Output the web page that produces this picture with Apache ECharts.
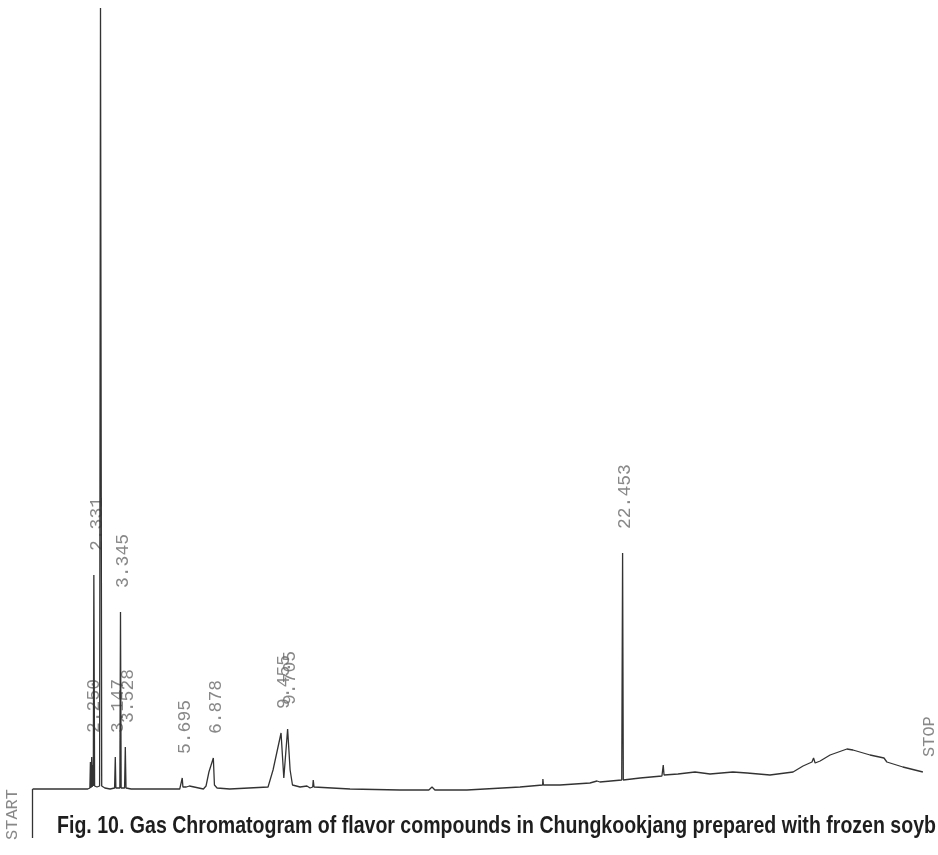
<!DOCTYPE html>
<html>
<head>
<meta charset="utf-8">
<script src="https://cdn.jsdelivr.net/npm/echarts@6/dist/echarts.min.js"></script>
<style>
  html, body { margin: 0; padding: 0; background: #fff; }
  #chart { width: 938px; height: 855px; }
</style>
</head>
<body>
<div id="chart"></div>
<script>
// Retention time (min) and detector response of the recorder trace
const retentionTime = [
  0, 2.10, 2.18, 2.20, 2.22, 2.250, 2.27, 2.29, 2.31, 2.331, 2.36, 2.45, 2.55, 2.584, 2.63, 2.75, 2.95,
  3.12, 3.147, 3.17, 3.32, 3.345, 3.37, 3.50, 3.528, 3.555, 3.75, 5.60, 5.672, 5.695, 5.72, 5.85, 5.97,
  6.01, 6.50, 6.60, 6.71, 6.878, 6.92, 7.02, 7.50, 8.96, 9.15, 9.455, 9.56, 9.705, 9.80, 9.89, 10.18,
  10.44, 10.56, 10.66, 10.68, 10.71, 12.08, 13.98, 15.08, 15.20, 15.31, 16.53, 18.55, 19.41, 19.42,
  19.44, 20.07, 21.21, 21.48, 21.59, 22.42, 22.453, 22.48, 23.12, 23.95, 24.00, 24.03, 24.56, 25.21,
  25.78, 26.65, 27.19, 28.06, 28.94, 29.32, 29.66, 29.72, 29.78, 29.97, 30.35, 30.99, 31.22, 31.87,
  32.40, 32.45, 32.51, 33.12, 33.88
];
const response = [
  11, 11, 12, 38, 12, 43, 13, 35, 14, 225, 14, 13, 14, 792, 14, 12, 11,
  12, 43, 12, 12, 188, 12, 12, 53, 12, 11, 11, 11, 22, 13, 13, 14,
  12, 11, 14, 28, 42, 15, 12, 11, 13, 30, 67, 22, 71, 30, 15, 13,
  14, 12, 13, 20, 13, 11, 10, 10, 13, 10, 10, 13, 15, 21,
  15, 15, 17, 19, 18, 20, 247, 20, 22, 24, 35, 25, 26, 28,
  26, 28, 27, 25, 28, 34, 38, 42, 37, 39, 45, 51, 50, 45,
  42, 44, 38, 33, 28
];

// Retention times printed by the integrator above their peaks
const peakLabels = ['2.250', '2.331', '3.147', '3.345', '3.528', '5.695', '6.878', '9.455', '9.705', '22.453'];

// Run start / stop markers
const startTime = 0;
const stopTime = 33.88;

const captionText = 'Fig. 10. Gas Chromatogram of flavor compounds in Chungkookjang prepared with frozen soyb';

const chart = echarts.init(document.getElementById('chart'), null, { renderer: 'canvas' });

const trace = retentionTime.map((t, i) => [t, response[i]]);
const peakPoints = peakLabels.map(s => {
  const t = parseFloat(s);
  const idx = retentionTime.indexOf(t);
  return [t, response[idx], s];
});
const stopIdx = retentionTime.indexOf(stopTime);

// caption width fitted with a horizontal scale
const captionFont = 'bold 24px "Liberation Sans", Arial, sans-serif';
const ctx = document.createElement('canvas').getContext('2d');
ctx.font = captionFont;
const captionScale = 879 / ctx.measureText(captionText).width;

const printFont = { fontFamily: '"Liberation Mono", "DejaVu Sans Mono", monospace', fontSize: 18, color: '#6a6a6a' };

// label offsets are given in the rotated (reading) frame: [along text, across text]
chart.setOption({
  animation: false,
  backgroundColor: '#ffffff',
  grid: { left: 32.6, right: 0, top: 0, bottom: 0 },
  xAxis: { type: 'value', min: 0, max: 34.456, show: false },
  yAxis: { type: 'value', min: -55, max: 800, show: false },
  series: [
    {
      type: 'line',
      data: trace,
      symbol: 'none',
      lineStyle: { color: '#333333', width: 1.3 },
      markLine: {
        silent: true,
        symbol: 'none',
        label: { show: false },
        lineStyle: { color: '#333333', width: 1.3, type: 'solid' },
        data: [[{ coord: [startTime, response[0]] }, { coord: [startTime, -38] }]]
      }
    },
    {
      type: 'scatter',
      data: peakPoints,
      symbolSize: 0,
      itemStyle: { color: 'rgba(0,0,0,0)' },
      label: Object.assign({
        show: true,
        formatter: p => p.data[2],
        rotate: 90,
        position: 'inside',
        align: 'left',
        verticalAlign: 'middle',
        offset: [24, 3]
      }, printFont)
    },
    {
      type: 'scatter',
      data: [
        { value: [startTime, -40], name: 'START', label: { offset: [0, -20] } },
        { value: [stopTime, response[stopIdx]], name: 'STOP', label: { offset: [15, 7] } }
      ],
      symbolSize: 0,
      itemStyle: { color: 'rgba(0,0,0,0)' },
      label: Object.assign({
        show: true,
        formatter: p => p.name,
        rotate: 90,
        position: 'inside',
        align: 'left',
        verticalAlign: 'middle'
      }, printFont, { fontSize: 17 })
    }
  ],
  graphic: [
    {
      type: 'text',
      x: 57,
      y: 826,
      scaleX: captionScale,
      style: {
        text: captionText,
        font: captionFont,
        fill: '#1e1e1e',
        align: 'left',
        verticalAlign: 'middle'
      }
    }
  ]
});
</script>
</body>
</html>
